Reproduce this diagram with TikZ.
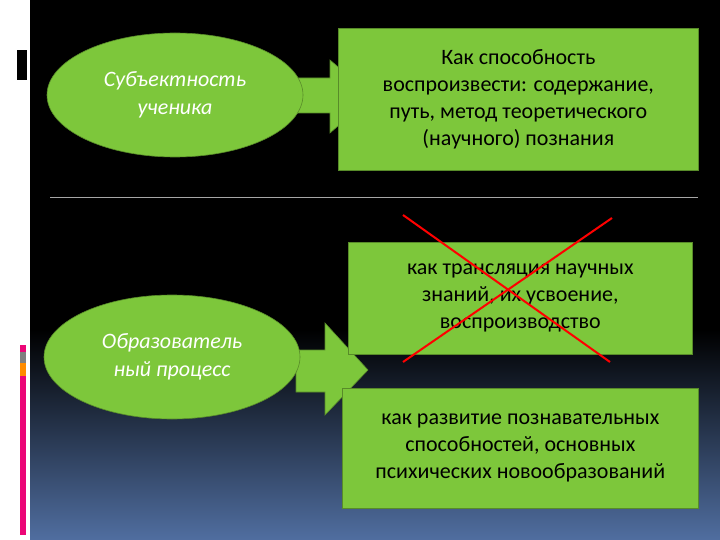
\documentclass[tikz,border=0pt]{standalone}
\usepackage{fontspec}
\setmainfont{Carlito}
\usetikzlibrary{shapes.geometric}
\begin{document}
\begin{tikzpicture}[x=1pt,y=-1pt]
\definecolor{grn}{HTML}{7DC73B}
\tikzset{gr/.style={fill=grn, draw=grn!70!black, line width=0.6pt},
  ell/.style={gr, ellipse, minimum width=256pt, minimum height=124pt, inner sep=0pt, font=\itshape\fontsize{22}{28}\selectfont, text=white, align=center},
  box/.style={gr, rectangle, anchor=north west, inner sep=0pt, font=\fontsize{22}{27}\selectfont, align=center, text=black}}
\useasboundingbox (0,0) rectangle (720,540);
\fill[white] (0,0) rectangle (30,540);
\fill[black] (30,0) rectangle (720,330);
\shade[top color=black, bottom color={rgb,255:red,80;green,110;blue,160}] (30,330) rectangle (720,540);
\fill[black] (17,50) rectangle (27,80);
\fill[magenta!80!red] (20,345) rectangle (26,352);
\fill[gray] (20,352) rectangle (26,363);
\fill[orange!90!yellow] (20,363) rectangle (26,376);
\fill[magenta!80!red] (20,376) rectangle (26,535);
\draw[gray!70, line width=0.8pt] (50,197) -- (698,197);
\draw[gr] (296,78) -- (330,78) -- (330,60) -- (372,96) -- (330,133) -- (330,113) -- (296,113) -- cycle;
\draw[gr] (296,350) -- (325,350) -- (325,323) -- (368,370) -- (325,415) -- (325,392) -- (296,392) -- cycle;
\node[ell] (e1) at (175,95) {Субъектность\\ученика};
\node[ell] (e2) at (172,357) {Образователь\\ный процесс};
\node[box, minimum width=360pt, minimum height=142pt] (r1) at (338,28) {Как способность\\воспроизвести: содержание,\\путь, метод теоретического\\(научного) познания};
\node[box, minimum width=344pt, minimum height=112pt] (r2) at (348,242) {как трансляция научных\\знаний, их усвоение,\\воспроизводство};
\node[box, minimum width=356pt, minimum height=120pt] (r3) at (342,388) {как развитие познавательных\\способностей, основных\\психических новообразований};
\draw[red, line width=2pt] (403,215) -- (610,362) (612,218) -- (403,362);
\end{tikzpicture}
\end{document}
